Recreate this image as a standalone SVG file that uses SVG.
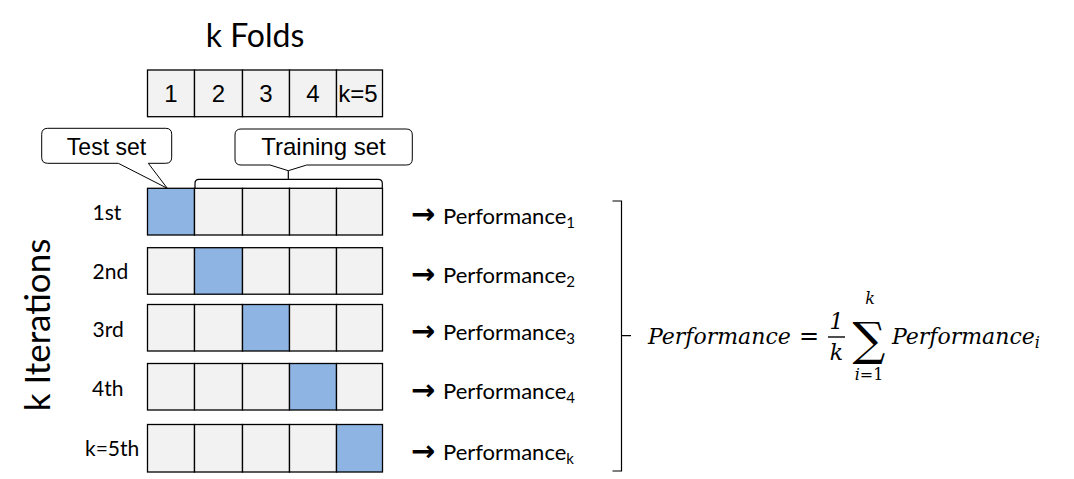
<svg xmlns="http://www.w3.org/2000/svg" width="1074" height="479" viewBox="0 0 1074 479">
<defs>
<style>
.cell{fill:#F2F2F2;stroke:#000;stroke-width:1.3}
.test{fill:#8EB4E3;stroke:#000;stroke-width:1.3}
.ar{font-family:Arial,"Liberation Sans",sans-serif;fill:#000}
.cal{font-family:Lato,"Open Sans",sans-serif;fill:#000}
.arrow{font-family:"DejaVu Sans",sans-serif;font-weight:bold;font-size:29px}
.math{font-family:"DejaVu Serif",serif;font-style:italic;fill:#000}
.callout{fill:#fff;stroke:#000;stroke-width:1}
.line{fill:none;stroke:#000;stroke-width:1.2}
</style>
</defs>
<rect width="1074" height="479" fill="#fff"/>

<g id="title-folds">
<text class="cal" x="255" y="46.5" font-size="32" text-anchor="middle">k Folds</text>
</g>
<g id="title-iterations">
<text class="cal" font-size="35" text-anchor="middle" transform="translate(50,325) rotate(-90)">k Iterations</text>
</g>

<g id="folds">
<rect class="cell" x="147.5" y="70" width="47" height="46.7"/>
<rect class="cell" x="194.5" y="70" width="48" height="46.7"/>
<rect class="cell" x="242.5" y="70" width="47" height="46.7"/>
<rect class="cell" x="289.5" y="70" width="47" height="46.7"/>
<rect class="cell" x="336.5" y="70" width="46" height="46.7"/>
<g class="ar" font-size="24" text-anchor="middle">
<text x="171" y="101.7">1</text>
<text x="218.5" y="101.7">2</text>
<text x="266" y="101.7">3</text>
<text x="313" y="101.7">4</text>
<text x="358" y="101.7">k=5</text>
</g>
</g>

<g id="callout-test">
<path class="callout" d="M47.7,128.3 H165.7 Q171.7,128.3 171.7,134.3 V157.3 Q171.7,163.3 165.7,163.3 H148.3 L167.3,188.3 L118.3,163.3 H47.7 Q41.7,163.3 41.7,157.3 V134.3 Q41.7,128.3 47.7,128.3 Z"/>
<text class="ar" x="106.5" y="155" font-size="23" text-anchor="middle">Test set</text>
</g>
<g id="callout-training">
<path class="callout" d="M241,129 H406.3 Q412.3,129 412.3,135 V159 Q412.3,165 406.3,165 H306.7 L288.3,170.7 L270,165 H241 Q235,165 235,159 V135 Q235,129 241,129 Z"/>
<text class="ar" x="323.5" y="154.5" font-size="24" text-anchor="middle">Training set</text>
</g>

<g id="iter-1">
<text class="cal" x="92.5" y="219.5" font-size="21">1st</text>
<rect class="test" x="147.5" y="188.3" width="47" height="46.7"/>
<rect class="cell" x="194.5" y="188.3" width="48" height="46.7"/>
<rect class="cell" x="242.5" y="188.3" width="47" height="46.7"/>
<rect class="cell" x="289.5" y="188.3" width="47" height="46.7"/>
<rect class="cell" x="336.5" y="188.3" width="46" height="46.7"/>
</g>
<g id="iter-2">
<text class="cal" x="92.5" y="279" font-size="21">2nd</text>
<rect class="cell" x="147.5" y="247.7" width="47" height="46.5"/>
<rect class="test" x="194.5" y="247.7" width="48" height="46.5"/>
<rect class="cell" x="242.5" y="247.7" width="47" height="46.5"/>
<rect class="cell" x="289.5" y="247.7" width="47" height="46.5"/>
<rect class="cell" x="336.5" y="247.7" width="46" height="46.5"/>
</g>
<g id="iter-3">
<text class="cal" x="92.5" y="336.5" font-size="21">3rd</text>
<rect class="cell" x="147.5" y="304.5" width="47" height="46.5"/>
<rect class="cell" x="194.5" y="304.5" width="48" height="46.5"/>
<rect class="test" x="242.5" y="304.5" width="47" height="46.5"/>
<rect class="cell" x="289.5" y="304.5" width="47" height="46.5"/>
<rect class="cell" x="336.5" y="304.5" width="46" height="46.5"/>
</g>
<g id="iter-4">
<text class="cal" x="92" y="396" font-size="21">4th</text>
<rect class="cell" x="147.5" y="363.5" width="47" height="46.5"/>
<rect class="cell" x="194.5" y="363.5" width="48" height="46.5"/>
<rect class="cell" x="242.5" y="363.5" width="47" height="46.5"/>
<rect class="test" x="289.5" y="363.5" width="47" height="46.5"/>
<rect class="cell" x="336.5" y="363.5" width="46" height="46.5"/>
</g>
<g id="iter-5">
<text class="cal" x="85" y="455.5" font-size="21">k=5th</text>
<rect class="cell" x="147.5" y="424.5" width="47" height="47.5"/>
<rect class="cell" x="194.5" y="424.5" width="48" height="47.5"/>
<rect class="cell" x="242.5" y="424.5" width="47" height="47.5"/>
<rect class="cell" x="289.5" y="424.5" width="47" height="47.5"/>
<rect class="test" x="336.5" y="424.5" width="46" height="47.5"/>
</g>

<g id="performances" class="cal" font-size="22">
<text x="411" y="224"><tspan class="arrow">→</tspan><tspan x="443" y="223.5">Performance</tspan><tspan font-size="15" dy="4">1</tspan></text>
<text x="411" y="283.5"><tspan class="arrow">→</tspan><tspan x="443" y="283">Performance</tspan><tspan font-size="15" dy="4">2</tspan></text>
<text x="411" y="340.5"><tspan class="arrow">→</tspan><tspan x="443" y="340">Performance</tspan><tspan font-size="15" dy="4">3</tspan></text>
<text x="411" y="399.5"><tspan class="arrow">→</tspan><tspan x="443" y="399">Performance</tspan><tspan font-size="15" dy="4">4</tspan></text>
<text x="411" y="460.5"><tspan class="arrow">→</tspan><tspan x="443" y="460">Performance</tspan><tspan font-size="15" dy="4">k</tspan></text>
</g>

<g id="formula">
<text class="math" x="648" y="344" font-size="22">Performance</text>
<text x="799" y="344" font-size="24" font-family="'DejaVu Serif',serif">=</text>
<text class="math" x="836.5" y="329" font-size="22" font-style="normal" text-anchor="middle">1</text>
<line x1="828" y1="337" x2="845" y2="337" stroke="#000" stroke-width="1.4"/>
<text class="math" x="836.5" y="360" font-size="22" text-anchor="middle">k</text>
<text x="869" y="355" font-size="46" font-family="'DejaVu Serif',serif" text-anchor="middle">∑</text>
<text class="math" x="870" y="304" font-size="16" text-anchor="middle">k</text>
<text class="math" x="869" y="380" font-size="16" text-anchor="middle">i<tspan font-style="normal">=1</tspan></text>
<text class="math" x="892" y="344" font-size="22">Performance<tspan font-size="16" dy="4">i</tspan></text>
</g>

<g id="connectors">
<path class="line" stroke-width="1" d="M288.3,170.7 V179.3 M195,188.3 V183.3 Q195,179.3 199,179.3 H378.3 Q382.3,179.3 382.3,183.3 V188.3"/>
<path class="line" stroke-width="1.5" d="M612.5,201 H621.5 V471 H612.5 M621.5,335.7 H631"/>
</g>
</svg>
